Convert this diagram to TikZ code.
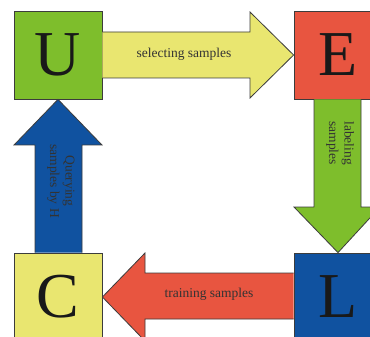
\documentclass[tikz,border=0pt]{standalone}
\usepackage{fontspec}
\setmainfont{Liberation Serif}
\definecolor{cgreen}{HTML}{7EBE2C}
\definecolor{cred}{HTML}{E85540}
\definecolor{cyellow}{HTML}{E9E670}
\definecolor{cblue}{HTML}{1052A0}
\definecolor{cedge}{HTML}{3C3C3C}
\definecolor{ctext}{HTML}{333333}
\tikzset{
  box/.style={draw=cedge, line width=0.8pt, minimum size=88pt, inner sep=0pt,
    font=\fontsize{64}{64}\selectfont, text=black!90},
  blockarrow/.style={draw=cedge, line width=0.8pt},
  lbl/.style={font=\fontsize{13.5}{15.5}\selectfont, text=ctext, align=center, inner sep=0pt}
}
\begin{document}
\begin{tikzpicture}[x=1pt,y=-1pt]
\useasboundingbox (0,0) rectangle (370,337);
\clip (0,0) rectangle (370,337);
\fill[white] (0,0) rectangle (370,337);
% boxes
\node[box, fill=cgreen] (U) at (58,55) {U};
\node[box, fill=cred] (E) at (338,55) {E};
\node[box, fill=cyellow] (C) at (58,297) {C};
\node[box, fill=cblue] (L) at (338,297) {L};
% top arrow U -> E
\draw[blockarrow, fill=cyellow] (U.east |- 0,32) -- (250,32) -- (250,12) -- (E.west) -- (250,98) -- (250,78) -- (U.east |- 0,78);
% right arrow E -> L
\draw[blockarrow, fill=cgreen] (314,0 |- E.south) -- (314,207) -- (294,207) -- (L.north) -- (380,207) -- (361,207) -- (361,0 |- E.south);
% bottom arrow L -> C
\draw[blockarrow, fill=cred] (L.west |- 0,273) -- (145,273) -- (145,253) -- (C.east) -- (145,341) -- (145,319) -- (L.west |- 0,319);
% left arrow C -> U
\draw[blockarrow, fill=cblue] (35,0 |- C.north) -- (35,145) -- (14,145) -- (U.south) -- (102,145) -- (82,145) -- (82,0 |- C.north);
% labels
\node[lbl] (tl) at (184,54) {selecting samples};
\node[lbl, rotate=-90] (rl) at (340,143) {labeling\\samples};
\node[lbl] (bl) at (209,294) {training samples};
\node[lbl, rotate=-90] (ll) at (61,181) {Querying\\samples by H};
\end{tikzpicture}
\end{document}
